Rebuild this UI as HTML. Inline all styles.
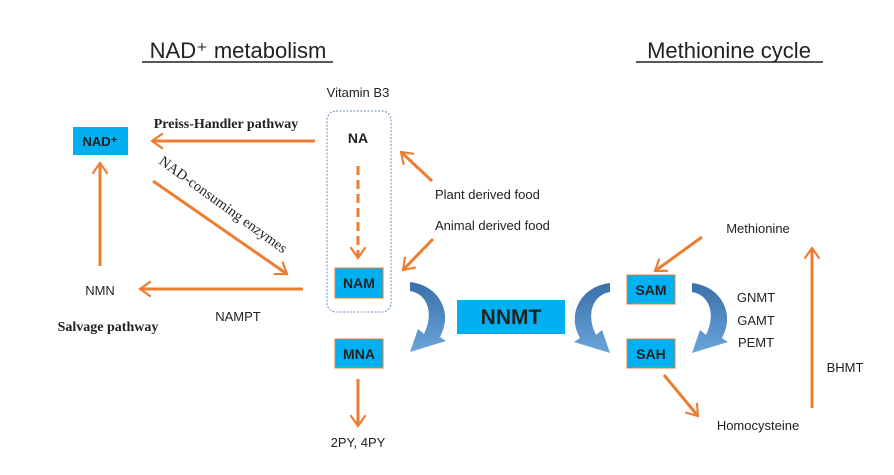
<!DOCTYPE html>
<html><head><meta charset="utf-8"><style>
html,body{margin:0;padding:0;background:#fff;}
svg{display:block;}
text{font-family:"Liberation Sans",sans-serif;fill:#222;}
.s{font-family:"Liberation Serif",serif;font-weight:bold;}
</style></head><body>
<svg width="894" height="475" viewBox="0 0 894 475" xmlns="http://www.w3.org/2000/svg">
<defs>
<marker id="ah" viewBox="0 0 10 10" refX="8.5" refY="5" markerWidth="6" markerHeight="6" orient="auto" markerUnits="strokeWidth">
<path d="M2.5 0.8 L8.5 5 L2.5 9.2" fill="none" stroke="#ed7d31" stroke-width="1.2"/>
</marker>
<linearGradient id="bg" x1="0" y1="0" x2="0" y2="1"><stop offset="0" stop-color="#3a6fa8"/><stop offset="1" stop-color="#6aa5dc"/></linearGradient>
<path id="carr" d="M0 0 C28 3 44 30 30 55 L36 59 L0 70 L8 47 L14 52 C24 32 18 12 0 9 Z" fill="url(#bg)"/>
</defs>
<text x="238" y="58" font-size="22" text-anchor="middle">NAD⁺ metabolism</text>
<line x1="142" y1="62" x2="333" y2="62" stroke="#222" stroke-width="1.5"/>
<text x="729" y="58" font-size="22" text-anchor="middle">Methionine cycle</text>
<line x1="636" y1="62" x2="823" y2="62" stroke="#222" stroke-width="1.5"/>

<text x="358" y="97" font-size="13" text-anchor="middle">Vitamin B3</text>
<rect x="327" y="111" width="64" height="201" rx="9" fill="none" stroke="#6c8ebf" stroke-width="1" stroke-dasharray="2,1.5"/>
<text x="358" y="143" font-size="14" font-weight="bold" text-anchor="middle">NA</text>

<rect x="73" y="127" width="55" height="28" fill="#00b0f0"/>
<text x="100" y="146" font-size="13" font-weight="bold" text-anchor="middle">NAD⁺</text>
<rect x="335" y="268" width="48" height="30" fill="#00b0f0" stroke="#ed7d31" stroke-width="1"/>
<text x="359" y="288" font-size="14" font-weight="bold" text-anchor="middle">NAM</text>
<rect x="335" y="339" width="48" height="29" fill="#00b0f0" stroke="#ed7d31" stroke-width="1"/>
<text x="359" y="359" font-size="14" font-weight="bold" text-anchor="middle">MNA</text>
<rect x="457" y="300" width="108" height="34" fill="#00b0f0"/>
<text x="511" y="324" font-size="21" font-weight="bold" text-anchor="middle">NNMT</text>
<rect x="627" y="275" width="48" height="29" fill="#00b0f0" stroke="#ed7d31" stroke-width="1"/>
<text x="651" y="295" font-size="14" font-weight="bold" text-anchor="middle">SAM</text>
<rect x="627" y="339" width="48" height="29" fill="#00b0f0" stroke="#ed7d31" stroke-width="1"/>
<text x="651" y="359" font-size="14" font-weight="bold" text-anchor="middle">SAH</text>

<g stroke="#ed7d31" stroke-width="3" fill="none" marker-end="url(#ah)">
<line x1="315" y1="141" x2="152" y2="141"/>
<line x1="153" y1="181" x2="287" y2="274"/>
<line x1="303" y1="289" x2="140" y2="289"/>
<line x1="100" y1="266" x2="100" y2="163"/>
<line x1="358" y1="166" x2="358" y2="258" stroke-dasharray="9,5"/>
<line x1="358" y1="379" x2="358" y2="426"/>
<line x1="432" y1="181" x2="401" y2="152"/>
<line x1="433" y1="239" x2="403" y2="270"/>
<line x1="702" y1="237" x2="655" y2="271"/>
<line x1="664" y1="375" x2="698" y2="416"/>
<line x1="812" y1="408" x2="812" y2="248"/>
</g>

<use href="#carr" transform="translate(410,282)"/>
<use href="#carr" transform="translate(610,283) scale(-1,1)"/>
<use href="#carr" transform="translate(692,283)"/>

<text x="226" y="128" font-size="14" class="s" text-anchor="middle">Preiss-Handler pathway</text>
<text x="158" y="163" font-size="14.5" transform="rotate(36 158 163)" style="font-family:'Liberation Serif',serif">NAD-consuming enzymes</text>
<text x="100" y="295" font-size="13" text-anchor="middle">NMN</text>
<text x="238" y="321" font-size="13" text-anchor="middle">NAMPT</text>
<text x="108" y="331" font-size="14" class="s" text-anchor="middle">Salvage pathway</text>
<text x="358" y="447" font-size="13" text-anchor="middle">2PY, 4PY</text>
<text x="435" y="199" font-size="13">Plant derived food</text>
<text x="435" y="230" font-size="13">Animal derived food</text>
<text x="758" y="233" font-size="13" text-anchor="middle">Methionine</text>
<text x="756" y="302" font-size="13" text-anchor="middle">GNMT</text>
<text x="756" y="325" font-size="13" text-anchor="middle">GAMT</text>
<text x="756" y="347" font-size="13" text-anchor="middle">PEMT</text>
<text x="845" y="372" font-size="13" text-anchor="middle">BHMT</text>
<text x="758" y="430" font-size="13" text-anchor="middle">Homocysteine</text>
</svg>
</body></html>
